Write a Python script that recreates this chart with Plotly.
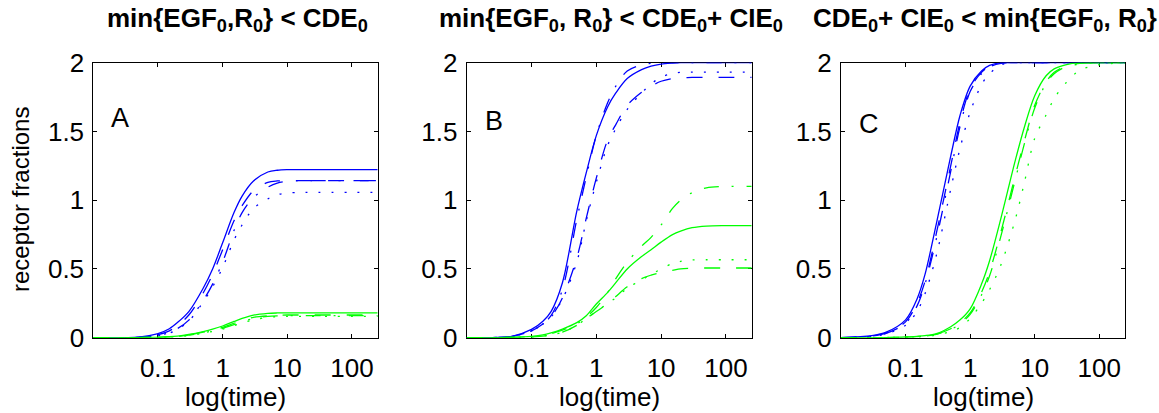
import plotly.graph_objects as go

W, H = 1159, 413

# sampling times shared by every curve
time = [0.01, 0.03, 0.05, 0.1, 0.15, 0.2, 0.3, 0.5, 0.7, 1, 1.5, 2, 3, 5, 7, 10,
        15, 20, 30, 50, 100, 250]

# ---- panel A: min{EGF0,R0} < CDE0 ----
a_blue_solid = [0, 0.001, 0.004, 0.03, 0.065, 0.11, 0.19, 0.36, 0.50, 0.69, 0.91, 1.03,
                1.14, 1.205, 1.218, 1.222, 1.222, 1.222, 1.222, 1.222, 1.222, 1.222]
a_blue_dash = [0, 0.001, 0.003, 0.022, 0.05, 0.088, 0.165, 0.325, 0.46, 0.64, 0.85, 0.96,
               1.07, 1.13, 1.14, 1.142, 1.142, 1.142, 1.142, 1.142, 1.142, 1.142]
a_blue_dashdot = [0, 0.001, 0.002, 0.016, 0.038, 0.066, 0.128, 0.27, 0.39, 0.55, 0.78, 0.91,
                  1.02, 1.095, 1.125, 1.138, 1.142, 1.142, 1.142, 1.142, 1.142, 1.142]
a_blue_dot = [0, 0.001, 0.002, 0.014, 0.034, 0.06, 0.12, 0.26, 0.37, 0.51, 0.71, 0.82,
              0.94, 1.01, 1.04, 1.052, 1.056, 1.057, 1.057, 1.057, 1.057, 1.057]
a_green_solid = [0, 0, 0.001, 0.003, 0.007, 0.012, 0.024, 0.045, 0.062, 0.085, 0.118, 0.14,
                 0.164, 0.177, 0.18, 0.181, 0.181, 0.181, 0.181, 0.181, 0.181, 0.181]
a_green_dash = [0, 0, 0.001, 0.002, 0.006, 0.01, 0.02, 0.04, 0.055, 0.075, 0.105, 0.125,
                0.148, 0.16, 0.164, 0.165, 0.165, 0.165, 0.165, 0.165, 0.165, 0.165]
a_green_dashdot = [0, 0, 0.001, 0.002, 0.005, 0.009, 0.018, 0.035, 0.05, 0.068, 0.095, 0.115,
                   0.14, 0.155, 0.159, 0.16, 0.16, 0.16, 0.16, 0.16, 0.16, 0.16]
a_green_dot = [0, 0, 0.001, 0.002, 0.005, 0.008, 0.016, 0.032, 0.046, 0.063, 0.088, 0.107,
               0.13, 0.148, 0.153, 0.155, 0.155, 0.155, 0.155, 0.155, 0.155, 0.155]

# ---- panel B: min{EGF0, R0} < CDE0 + CIE0 ----
b_blue_solid = [0, 0.003, 0.01, 0.06, 0.12, 0.19, 0.40, 0.92, 1.2, 1.47, 1.68, 1.78,
                1.885, 1.95, 1.975, 1.99, 1.997, 2.0, 2.0, 2.0, 2.0, 2.0]
b_blue_dash = [0, 0.002, 0.008, 0.05, 0.1, 0.15, 0.29, 0.58, 0.87, 1.16, 1.44, 1.55,
               1.69, 1.785, 1.83, 1.865, 1.885, 1.89, 1.893, 1.893, 1.893, 1.893]
b_blue_dashdot = [0, 0.003, 0.009, 0.05, 0.1, 0.16, 0.35, 0.86, 1.17, 1.47, 1.71, 1.83,
                  1.94, 1.985, 1.995, 2.0, 2.0, 2.0, 2.0, 2.0, 2.0, 2.0]
b_blue_dot = [0, 0.002, 0.008, 0.05, 0.1, 0.15, 0.28, 0.55, 0.85, 1.13, 1.40, 1.52,
              1.66, 1.78, 1.845, 1.895, 1.922, 1.93, 1.932, 1.932, 1.932, 1.932]
b_green_solid = [0, 0.001, 0.003, 0.01, 0.02, 0.035, 0.063, 0.11, 0.16, 0.245, 0.33, 0.40,
                 0.50, 0.59, 0.64, 0.695, 0.75, 0.775, 0.80, 0.812, 0.815, 0.815]
b_green_dash = [0, 0.001, 0.002, 0.005, 0.012, 0.02, 0.04, 0.09, 0.14, 0.19, 0.25, 0.30,
                0.37, 0.43, 0.455, 0.475, 0.49, 0.50, 0.505, 0.507, 0.507, 0.507]
b_green_dashdot = [0, 0.001, 0.003, 0.008, 0.018, 0.03, 0.055, 0.10, 0.15, 0.22, 0.33, 0.43,
                   0.55, 0.665, 0.73, 0.82, 0.94, 1.0, 1.055, 1.09, 1.1, 1.1]
b_green_dot = [0, 0.001, 0.002, 0.005, 0.012, 0.02, 0.04, 0.09, 0.14, 0.19, 0.25, 0.29,
               0.36, 0.42, 0.46, 0.50, 0.54, 0.555, 0.565, 0.567, 0.567, 0.567]

# ---- panel C: CDE0 + CIE0 < min{EGF0, R0} ----
c_blue_solid = [0, 0.015, 0.04, 0.13, 0.28, 0.46, 0.83, 1.32, 1.62, 1.83, 1.94, 1.98,
                2.0, 2.0, 2.0, 2.0, 2.0, 2.0, 2.0, 2.0, 2.0, 2.0]
c_blue_dash = [0, 0.012, 0.035, 0.115, 0.25, 0.41, 0.76, 1.25, 1.57, 1.81, 1.93, 1.975,
               2.0, 2.0, 2.0, 2.0, 2.0, 2.0, 2.0, 2.0, 2.0, 2.0]
c_blue_dashdot = [0, 0.011, 0.032, 0.105, 0.23, 0.39, 0.72, 1.21, 1.54, 1.79, 1.92, 1.97,
                  1.995, 2.0, 2.0, 2.0, 2.0, 2.0, 2.0, 2.0, 2.0, 2.0]
c_blue_dot = [0, 0.01, 0.028, 0.09, 0.19, 0.32, 0.6, 1.08, 1.38, 1.64, 1.84, 1.92,
              1.985, 2.0, 2.0, 2.0, 2.0, 2.0, 2.0, 2.0, 2.0, 2.0]
c_green_solid = [0, 0, 0.001, 0.005, 0.01, 0.015, 0.03, 0.08, 0.13, 0.21, 0.39, 0.56,
                 0.87, 1.29, 1.54, 1.76, 1.905, 1.955, 1.985, 2.0, 2.0, 2.0]
c_green_dash = [0, 0, 0.001, 0.004, 0.008, 0.013, 0.026, 0.065, 0.11, 0.18, 0.33, 0.48,
                0.77, 1.18, 1.44, 1.69, 1.86, 1.93, 1.975, 1.995, 2.0, 2.0]
c_green_dashdot = [0, 0, 0.001, 0.004, 0.008, 0.012, 0.025, 0.06, 0.1, 0.17, 0.31, 0.45,
                   0.74, 1.15, 1.42, 1.67, 1.85, 1.92, 1.97, 1.99, 2.0, 2.0]
c_green_dot = [0, 0, 0.001, 0.003, 0.006, 0.01, 0.02, 0.045, 0.075, 0.14, 0.25, 0.35,
               0.53, 0.86, 1.14, 1.45, 1.62, 1.74, 1.85, 1.945, 1.985, 2.0]

titles = [
    "min{EGF<sub>0</sub>,R<sub>0</sub>} &lt; CDE<sub>0</sub>",
    "min{EGF<sub>0</sub>, R<sub>0</sub>} &lt; CDE<sub>0</sub>+ CIE<sub>0</sub>",
    "CDE<sub>0</sub>+ CIE<sub>0</sub> &lt; min{EGF<sub>0</sub>, R<sub>0</sub>}",
]
letters = ["A", "B", "C"]
x_ticks = [0.1, 1, 10, 100]
x_tick_text = ["0.1", "1", "10", "100"]
y_ticks = [0, 0.5, 1, 1.5, 2]
y_tick_text = ["0", "0.5", "1", "1.5", "2"]

panel_curves = [
    [(a_blue_solid, "b", "solid"), (a_blue_dash, "b", "dash"),
     (a_blue_dashdot, "b", "dashdot"), (a_blue_dot, "b", "dot"),
     (a_green_solid, "g", "solid"), (a_green_dash, "g", "dash"),
     (a_green_dashdot, "g", "dashdot"), (a_green_dot, "g", "dot")],
    [(b_blue_solid, "b", "solid"), (b_blue_dash, "b", "dash"),
     (b_blue_dashdot, "b", "dashdot"), (b_blue_dot, "b", "dot"),
     (b_green_solid, "g", "solid"), (b_green_dash, "g", "dash"),
     (b_green_dashdot, "g", "dashdot"), (b_green_dot, "g", "dot")],
    [(c_blue_solid, "b", "solid"), (c_blue_dash, "b", "dash"),
     (c_blue_dashdot, "b", "dashdot"), (c_blue_dot, "b", "dot"),
     (c_green_solid, "g", "solid"), (c_green_dash, "g", "dash"),
     (c_green_dashdot, "g", "dashdot"), (c_green_dot, "g", "dot")],
]

COLORS = {"b": "#0000ff", "g": "#00ff00"}
DASHES = {"solid": "solid", "dash": "16px,16px",
          "dashdot": "15px,13px,2px,13px", "dot": "2px,11px"}
FONT = "Liberation Sans, Arial, sans-serif"

# plot-area edges in pixels
x_edges = [(93.3, 377.7), (466.7, 751.7), (841.0, 1125.0)]
y_top, y_bot = 62.7, 337.7


def fx(px):
    return px / W


def fy(py):
    return 1 - py / H


fig = go.Figure()
layout = dict(
    width=W, height=H,
    margin=dict(l=0, r=0, t=0, b=0, pad=0, autoexpand=False),
    paper_bgcolor="white", plot_bgcolor="white",
    showlegend=False,
    font=dict(family=FONT, size=26, color="black"),
)
annotations = []

for i, curves in enumerate(panel_curves):
    suffix = "" if i == 0 else str(i + 1)
    xa, ya = "x" + suffix, "y" + suffix
    for values, col, style in curves:
        fig.add_trace(go.Scatter(
            x=time, y=values, xaxis=xa, yaxis=ya, mode="lines",
            line=dict(color=COLORS[col], width=1.3, dash=DASHES[style],
                      shape="spline", smoothing=0.9),
            hoverinfo="skip",
        ))
    x0, x1 = x_edges[i]
    axis_common = dict(
        showline=True, linecolor="black", linewidth=1, mirror="ticks",
        ticks="inside", ticklen=4, tickwidth=1, tickcolor="black",
        showgrid=False, zeroline=False, layer="below traces", automargin=False,
        tickfont=dict(family=FONT, size=26, color="black"),
    )
    layout["xaxis" + suffix] = dict(
        axis_common, type="log", range=[-2, 2.398],
        domain=[fx(x0), fx(x1)], anchor=ya,
        tickvals=x_ticks, ticktext=x_tick_text, ticklabelstandoff=7,
    )
    layout["yaxis" + suffix] = dict(
        axis_common, range=[0, 2], domain=[fy(y_bot), fy(y_top)], anchor=xa,
        tickvals=y_ticks, ticktext=y_tick_text, ticklabelstandoff=3,
    )
    cx = (x0 + x1) / 2
    annotations.append(dict(
        text="<b>" + titles[i] + "</b>", x=fx(cx + 2), y=fy(20), xref="paper", yref="paper",
        xanchor="center", yanchor="middle", showarrow=False,
        font=dict(family=FONT, size=26, color="black"),
    ))
    annotations.append(dict(
        text="log(time)", x=fx(cx), y=fy(397), xref="paper", yref="paper",
        xanchor="center", yanchor="middle", showarrow=False,
        font=dict(family=FONT, size=26, color="black"),
    ))
    annotations.append(dict(
        text=letters[i], x=fx(x0 + 16), y=fy(118 + 3 * i), xref="paper", yref="paper",
        xanchor="left", yanchor="middle", showarrow=False,
        font=dict(family=FONT, size=27, color="black"),
    ))

annotations.append(dict(
    text="receptor fractions", x=fx(21), y=fy(200), xref="paper", yref="paper",
    xanchor="center", yanchor="middle", textangle=-90, showarrow=False,
    font=dict(family=FONT, size=24, color="black"),
))
layout["annotations"] = annotations
fig.update_layout(**layout)
fig.write_html("out.html")
